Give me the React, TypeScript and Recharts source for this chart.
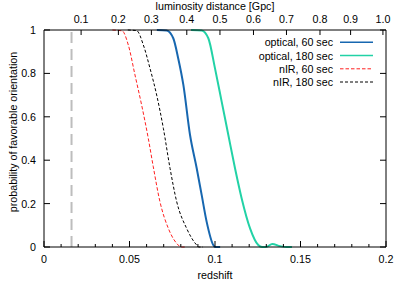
import { LineChart, Line, XAxis, YAxis, ReferenceLine } from 'recharts'

// redshift axis (bottom)
const redshiftMajor = [0, 0.05, 0.1, 0.15, 0.2]
const redshiftMinor = [0.01, 0.02, 0.03, 0.04, 0.06, 0.07, 0.08, 0.09, 0.11, 0.12, 0.13, 0.14, 0.16, 0.17, 0.18, 0.19]
// probability axis
const probTicks = [0, 0.2, 0.4, 0.6, 0.8, 1]
// luminosity distance axis (top), labels and the redshift where each sits
const distanceLabels = ['0.1', '0.2', '0.3', '0.4', '0.5', '0.6', '0.7', '0.8', '0.9', '1.0']
const distanceRedshift = [0.0217, 0.0435, 0.0628, 0.0835, 0.1029, 0.1225, 0.1418, 0.1614, 0.1793, 0.1982]
const nearbyLimit = 0.0161

const optical60 = [
  { z: 0.066, p: 1 }, { z: 0.0717, p: 0.998 }, { z: 0.0756, p: 0.962 }, { z: 0.0785, p: 0.869 },
  { z: 0.0815, p: 0.747 }, { z: 0.0854, p: 0.516 }, { z: 0.0893, p: 0.363 }, { z: 0.0922, p: 0.24 },
  { z: 0.0951, p: 0.117 }, { z: 0.099, p: 0.009 }, { z: 0.1, p: 0 }, { z: 0.103, p: 0 },
]
const optical180 = [
  { z: 0.086, p: 1 }, { z: 0.0922, p: 0.998 }, { z: 0.0961, p: 0.962 }, { z: 0.1, p: 0.823 },
  { z: 0.1039, p: 0.67 }, { z: 0.1078, p: 0.516 }, { z: 0.1117, p: 0.363 }, { z: 0.1156, p: 0.224 },
  { z: 0.1205, p: 0.086 }, { z: 0.1253, p: 0.009 }, { z: 0.1275, p: 0 }, { z: 0.1298, p: 0 },
  { z: 0.1335, p: 0.014 }, { z: 0.138, p: 0.004 }, { z: 0.142, p: 0 }, { z: 0.145, p: 0 },
]
const nir60 = [
  { z: 0.04, p: 1 }, { z: 0.0457, p: 0.996 }, { z: 0.0493, p: 0.931 }, { z: 0.0532, p: 0.793 },
  { z: 0.0571, p: 0.654 }, { z: 0.061, p: 0.5 }, { z: 0.0639, p: 0.37 }, { z: 0.0678, p: 0.209 },
  { z: 0.0727, p: 0.086 }, { z: 0.0785, p: 0.009 }, { z: 0.08, p: 0 }, { z: 0.083, p: 0 },
]
const nir180 = [
  { z: 0.049, p: 1 }, { z: 0.0542, p: 0.997 }, { z: 0.0581, p: 0.931 }, { z: 0.062, p: 0.823 },
  { z: 0.0659, p: 0.7 }, { z: 0.0698, p: 0.547 }, { z: 0.0737, p: 0.363 }, { z: 0.0776, p: 0.209 },
  { z: 0.0834, p: 0.086 }, { z: 0.0893, p: 0.009 }, { z: 0.0905, p: 0 }, { z: 0.093, p: 0 },
]

const series = [
  { name: 'optical, 60 sec', data: optical60, color: '#1767b0', dash: undefined, width: 2 },
  { name: 'optical, 180 sec', data: optical180, color: '#22d2a6', dash: undefined, width: 2 },
  { name: 'nIR, 60 sec', data: nir60, color: '#ff2020', dash: '3.5 2', width: 1 },
  { name: 'nIR, 180 sec', data: nir180, color: '#000000', dash: '3 2', width: 1 },
]

const W = 407
const H = 284
const L = 44
const R = 386
const T = 30
const B = 247
const FONT = '"Liberation Sans", Arial, sans-serif'
const FS = 10.7

const BottomTick = (props: any) => {
  const { x, payload } = props
  const major = redshiftMajor.includes(payload.value)
  return (
    <g>
      <line x1={x} x2={x} y1={B} y2={B - (major ? 6 : 3)} stroke="#000" />
      {major && (
        <text x={x} y={B + 12} textAnchor="middle" dominantBaseline="central" fontFamily={FONT} fontSize={FS} fill="#000">
          {String(payload.value)}
        </text>
      )}
    </g>
  )
}

const TopTick = (props: any) => {
  const { x, payload } = props
  const i = distanceRedshift.indexOf(payload.value)
  return (
    <g>
      <line x1={x} x2={x} y1={T} y2={T + 5} stroke="#000" />
      <text x={x} y={19} textAnchor="middle" dominantBaseline="central" fontFamily={FONT} fontSize={FS} fill="#000">
        {distanceLabels[i]}
      </text>
    </g>
  )
}

const LeftTick = (props: any) => {
  const { y, payload } = props
  return (
    <g>
      <line x1={L} x2={L + 6} y1={y} y2={y} stroke="#000" />
      <text x={L - 8} y={y} textAnchor="end" dominantBaseline="central" fontFamily={FONT} fontSize={FS} fill="#000">
        {String(payload.value)}
      </text>
    </g>
  )
}

const RightTick = (props: any) => {
  const { y } = props
  return <line x1={R} x2={R - 6} y1={y} y2={y} stroke="#000" />
}

const legendRows = [42.3, 55.5, 68.8, 82]

export default function App() {
  return (
    <div style={{ position: 'absolute', left: 0, top: 0, width: W, height: H, background: '#fff' }}>
      <LineChart width={W} height={H} margin={{ top: 0, right: 0, bottom: 0, left: 0 }}>
        <XAxis
          xAxisId="bottom"
          dataKey="z"
          type="number"
          domain={[0, 0.2]}
          ticks={[...redshiftMajor, ...redshiftMinor].sort((a, b) => a - b)}
          interval={0}
          height={H - B}
          stroke="#000"
          tickLine={false}
          tick={<BottomTick />}
          allowDataOverflow
          label={{
            value: 'redshift',
            content: () => (
              <text x={(L + R) / 2} y={275} textAnchor="middle" dominantBaseline="central" fontFamily={FONT} fontSize={FS} fill="#000">
                redshift
              </text>
            ),
          }}
        />
        <XAxis
          xAxisId="top"
          orientation="top"
          dataKey="z"
          type="number"
          domain={[0, 0.2]}
          ticks={distanceRedshift}
          interval={0}
          height={T}
          stroke="#000"
          tickLine={false}
          tick={<TopTick />}
          allowDataOverflow
          label={{
            value: 'luminosity distance [Gpc]',
            content: () => (
              <text x={(L + R) / 2} y={6} textAnchor="middle" dominantBaseline="central" fontFamily={FONT} fontSize={FS} fill="#000">
                luminosity distance [Gpc]
              </text>
            ),
          }}
        />
        <YAxis
          yAxisId="left"
          type="number"
          domain={[0, 1]}
          ticks={probTicks}
          interval={0}
          width={L}
          stroke="#000"
          tickLine={false}
          tick={<LeftTick />}
          label={{
            value: 'probability of favorable orientation',
            content: () => (
              <text
                x={13}
                y={132}
                transform="rotate(-90 13 132)"
                textAnchor="middle"
                dominantBaseline="central"
                fontFamily={FONT}
                fontSize={FS}
                fill="#000"
              >
                probability of favorable orientation
              </text>
            ),
          }}
        />
        <YAxis
          yAxisId="right"
          orientation="right"
          type="number"
          domain={[0, 1]}
          ticks={probTicks}
          interval={0}
          width={W - R}
          stroke="#000"
          tickLine={false}
          tick={<RightTick />}
          allowDataOverflow
        />
        <ReferenceLine
          x={nearbyLimit}
          xAxisId="bottom"
          yAxisId="left"
          stroke="#bdbdbd"
          strokeWidth={2}
          strokeDasharray="11 6"
        />
        {/* invisible copy so the top and right axes have a series bound to them */}
        <Line
          data={optical60}
          dataKey="p"
          xAxisId="top"
          yAxisId="right"
          stroke="none"
          dot={false}
          activeDot={false}
          legendType="none"
          isAnimationActive={false}
        />
        {series.map((s) => (
          <Line
            key={s.name}
            name={s.name}
            data={s.data}
            dataKey="p"
            xAxisId="bottom"
            yAxisId="left"
            type="monotone"
            stroke={s.color}
            strokeWidth={s.width}
            strokeDasharray={s.dash}
            dot={false}
            activeDot={false}
            isAnimationActive={false}
          />
        ))}
      </LineChart>
      <svg width={W} height={H} style={{ position: 'absolute', left: 0, top: 0, pointerEvents: 'none' }}>
        {series.map((s, i) => (
          <g key={s.name}>
            <text x={333} y={legendRows[i]} textAnchor="end" dominantBaseline="central" fontFamily={FONT} fontSize={FS} fill="#000">
              {s.name}
            </text>
            <line x1={340} x2={373} y1={legendRows[i]} y2={legendRows[i]} stroke={s.color} strokeWidth={s.width === 2 ? 1.5 : 1} strokeDasharray={s.dash} />
          </g>
        ))}
      </svg>
    </div>
  )
}
